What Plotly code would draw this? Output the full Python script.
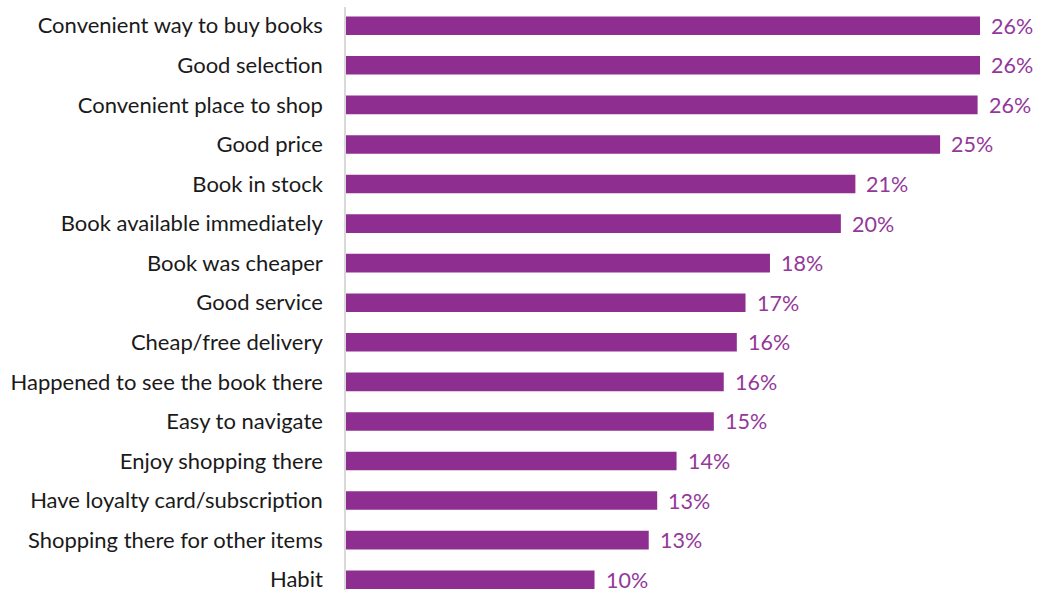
import plotly.graph_objects as go

categories = [
    "Convenient way to buy books",
    "Good selection",
    "Convenient place to shop",
    "Good price",
    "Book in stock",
    "Book available immediately",
    "Book was cheaper",
    "Good service",
    "Cheap/free delivery",
    "Happened to see the book there",
    "Easy to navigate",
    "Enjoy shopping there",
    "Have loyalty card/subscription",
    "Shopping there for other items",
    "Habit",
]
values = [26.2, 26.2, 26.1, 24.55, 21.05, 20.45, 17.52, 16.51, 16.15, 15.61,
          15.2, 13.66, 12.86, 12.51, 10.27]
labels = ["26%", "26%", "26%", "25%", "21%", "20%", "18%", "17%", "16%", "16%",
          "15%", "14%", "13%", "13%", "10%"]

BAR = "#8E2E90"
TXT = "#93389A"
FONT = "Lato"

fig = go.Figure()
fig.add_trace(go.Bar(
    x=values, y=categories, orientation="h",
    marker=dict(color=BAR, line=dict(width=0)),
    width=0.47, hoverinfo="skip",
))
for c, v, t in zip(categories, values, labels):
    fig.add_annotation(x=v, y=c, text=t, showarrow=False, xanchor="left",
                       yanchor="middle", xshift=9,
                       font=dict(family=FONT, size=21.5, color=TXT))

fig.update_layout(
    width=1041, height=592,
    margin=dict(l=346, r=0, t=7, b=0),
    paper_bgcolor="white", plot_bgcolor="white",
    showlegend=False,
    font=dict(family=FONT, size=22, color="#1a1a1a"),
)
fig.update_xaxes(range=[0, 28.72], visible=False, fixedrange=True)
fig.update_yaxes(
    type="category", categoryorder="array", categoryarray=categories,
    range=[14.26, -0.474], showgrid=False, zeroline=False,
    showline=True, linecolor="#d9d9d9", linewidth=1.5,
    ticks="", ticklabelstandoff=17,
    tickfont=dict(family=FONT, size=22, color="#1a1a1a"),
)
fig.write_html("out.html")
